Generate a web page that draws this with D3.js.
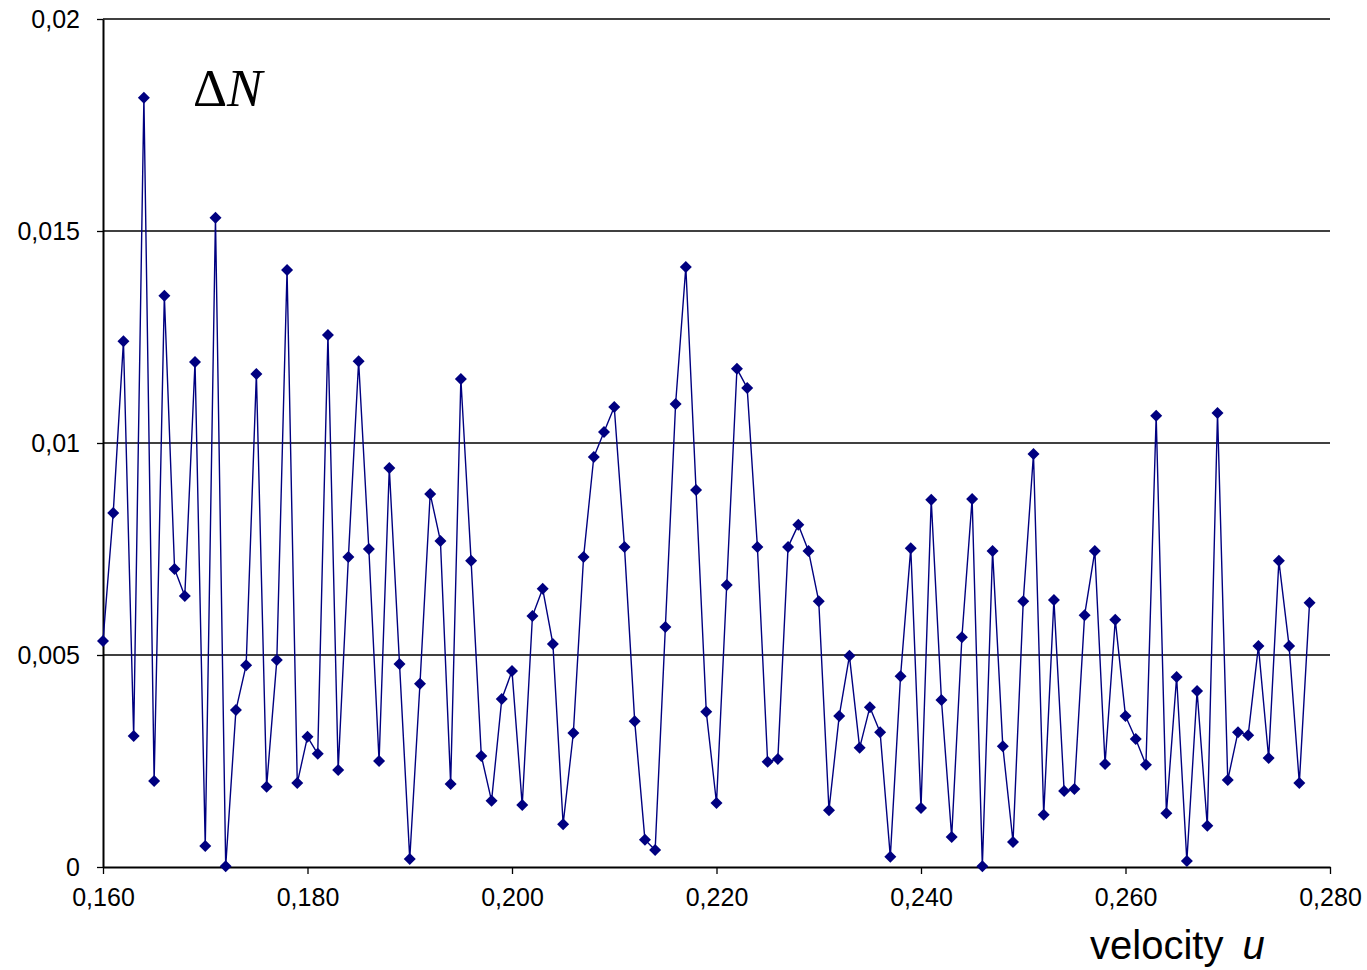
<!DOCTYPE html>
<html>
<head>
<meta charset="utf-8">
<script src="https://cdn.jsdelivr.net/npm/d3@7"></script>
<style>
  body { margin: 0; background: #fff; }
  svg { display: block; }
</style>
</head>
<body>
<div class="chart"></div>
<script>
var svgWidth = 1367;
var svgHeight = 970;

var margin = { top: 19, right: 37, bottom: 103, left: 103 };
var width = svgWidth - margin.left - margin.right;
var height = svgHeight - margin.top - margin.bottom;

// velocity u, step 0.001 from 0.160
var uStart = 0.160;
var uStep = 0.001;

// ΔN values
var deltaN = [
  0.00533, 0.00835, 0.0124, 0.00309, 0.01814, 0.00203, 0.01347, 0.00703, 0.00639, 0.01191,
  0.000495, 0.01531, 0.00002, 0.0037, 0.00476, 0.01163, 0.00189, 0.00488, 0.01408, 0.00198,
  0.00307, 0.00267, 0.01255, 0.00229, 0.00731, 0.01193, 0.0075, 0.0025, 0.00941, 0.00479,
  0.00019, 0.00432, 0.0088, 0.00769, 0.00196, 0.01151, 0.00722, 0.00262, 0.00156, 0.00396,
  0.00462, 0.00146, 0.00592, 0.00656, 0.00526, 0.00101, 0.00316, 0.00731, 0.00967, 0.01026,
  0.01085, 0.00755, 0.00344, 0.00064, 0.0004, 0.00566, 0.01092, 0.01415, 0.00889, 0.00366,
  0.00151, 0.00665, 0.01175, 0.0113, 0.00755, 0.00248, 0.00255, 0.00755, 0.00807, 0.00745,
  0.00627, 0.00134, 0.00356, 0.00498, 0.00281, 0.00377, 0.00318, 0.00024, 0.0045, 0.00752,
  0.00139, 0.00866, 0.00394, 0.00071, 0.00542, 0.00868, 0.00002, 0.00745, 0.00285, 0.00059,
  0.00627, 0.00974, 0.00123, 0.0063, 0.00179, 0.00184, 0.00594, 0.00745, 0.00243, 0.00583,
  0.00356, 0.00302, 0.00241, 0.01064, 0.00127, 0.00448, 0.00014, 0.00415, 0.00097, 0.01071,
  0.00205, 0.00318, 0.00311, 0.00521, 0.00257, 0.00722, 0.00521, 0.00198, 0.00623
];

var xTicks = [0.160, 0.180, 0.200, 0.220, 0.240, 0.260, 0.280];
var yTicks = [0, 0.005, 0.01, 0.015, 0.02];

var data = deltaN.map(function(v, i) {
  return { u: uStart + i * uStep, n: v };
});

var locale = d3.formatLocale({ decimal: ",", thousands: ".", grouping: [3], currency: ["", ""] });
var fmtX = locale.format(".3f");
var fmtY = function(d) { return d === 0 ? "0" : locale.format("~g")(d); };

var svg = d3.select(".chart")
  .append("svg")
  .attr("width", svgWidth)
  .attr("height", svgHeight);

var chartGroup = svg.append("g")
  .attr("transform", `translate(${margin.left}, ${margin.top})`);

var xScale = d3.scaleLinear()
  .domain([0.160, 0.280])
  .range([0, width]);

var yScale = d3.scaleLinear()
  .domain([0, 0.02])
  .range([height, 0]);

// horizontal gridlines
chartGroup.append("g")
  .selectAll("line")
  .data(yTicks.filter(d => d > 0))
  .enter().append("line")
  .attr("x1", 0)
  .attr("x2", width)
  .attr("y1", d => yScale(d))
  .attr("y2", d => yScale(d))
  .attr("stroke", "#000")
  .attr("stroke-width", 1.3);

// axes
var leftAxis = d3.axisLeft(yScale)
  .tickValues(yTicks)
  .tickFormat(fmtY)
  .tickSizeInner(6)
  .tickSizeOuter(0)
  .tickPadding(17);

var bottomAxis = d3.axisBottom(xScale)
  .tickValues(xTicks)
  .tickFormat(fmtX)
  .tickSizeInner(7)
  .tickSizeOuter(0)
  .tickPadding(14);

var yAxisG = chartGroup.append("g").call(leftAxis);
var xAxisG = chartGroup.append("g")
  .attr("transform", `translate(0, ${height})`)
  .call(bottomAxis);

[yAxisG, xAxisG].forEach(function(g) {
  g.select(".domain").attr("stroke", "#000").attr("stroke-width", 2);
  g.selectAll(".tick line").attr("stroke", "#000").attr("stroke-width", 1.3);
  g.selectAll("text")
    .attr("fill", "#000")
    .style("font-family", "'Liberation Sans', Arial, sans-serif")
    .style("font-size", "25px");
});

// line
var drawLine = d3.line()
  .x(d => xScale(d.u))
  .y(d => yScale(d.n));

chartGroup.append("path")
  .attr("d", drawLine(data))
  .attr("fill", "none")
  .attr("stroke", "#000080")
  .attr("stroke-width", 1.4)
  .attr("stroke-linejoin", "round");

// diamond markers
chartGroup.append("g")
  .selectAll("path")
  .data(data)
  .enter().append("path")
  .attr("transform", d => `translate(${xScale(d.u)}, ${yScale(d.n)})`)
  .attr("d", "M0,-6L6,0L0,6L-6,0Z")
  .attr("fill", "#000080");

// labels
svg.append("text")
  .attr("x", 193)
  .attr("y", 106)
  .style("font-family", "'Liberation Serif', 'Times New Roman', serif")
  .style("font-size", "53px")
  .attr("fill", "#000")
  .html("Δ<tspan font-style='italic'>N</tspan>");

svg.append("text")
  .attr("x", 1090)
  .attr("y", 959)
  .style("font-family", "'Liberation Sans', Arial, sans-serif")
  .style("font-size", "40px")
  .attr("fill", "#000")
  .html("velocity <tspan dx='8' font-style='italic'>u</tspan>");
</script>
</body>
</html>
